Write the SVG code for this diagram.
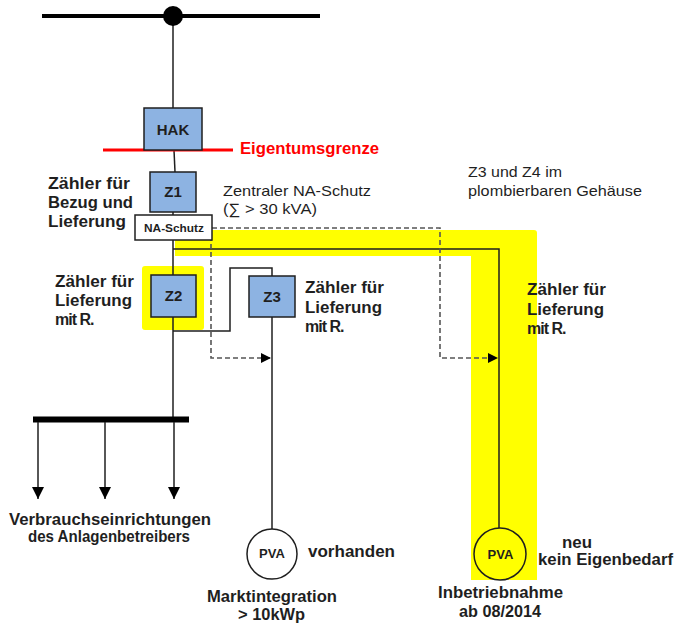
<svg xmlns="http://www.w3.org/2000/svg" width="676" height="626" viewBox="0 0 676 626">
<style>
text{font-family:"Liberation Sans",Arial,sans-serif;fill:#1f1f1f}
.b{font-weight:bold;font-size:15px}
.l{font-weight:bold;font-size:16px}
.r{font-size:15px}
.box{fill:#8db3e2;stroke:#1f1f1f;stroke-width:1.5}
.w{fill:none;stroke:#1f1f1f;stroke-width:1.5}
.d{fill:none;stroke:#555;stroke-width:1.6;stroke-dasharray:5 3}
.c{text-anchor:middle}
.m{letter-spacing:-1px}
</style>
<defs>
<marker id="ah" viewBox="0 0 10 10" refX="10" refY="5" markerWidth="10" markerHeight="10" markerUnits="userSpaceOnUse" orient="auto"><path d="M0,0L10,5L0,10Z" fill="#000"/></marker>
<marker id="ad" viewBox="0 0 12 12" refX="12" refY="6" markerWidth="12" markerHeight="12" markerUnits="userSpaceOnUse" orient="auto"><path d="M0,0L12,6L0,12Z" fill="#000"/></marker>
</defs>
<g id="highlight">
<path d="M175,230H534Q537,230 537,233V580H471V256H175Z" fill="#ffff00"/>
<rect x="142" y="266" width="62" height="64" rx="3" fill="#ffff00"/>
</g>
<g id="connectors">
<line x1="42" y1="16" x2="320" y2="16" stroke="#000" stroke-width="4"/>
<line x1="173" y1="16" x2="173" y2="108" class="w"/>
<line x1="174" y1="150" x2="175" y2="172" class="w"/>
<line x1="173" y1="212" x2="173" y2="215" class="w"/>
<line x1="173" y1="240" x2="173" y2="275" class="w"/>
<line x1="173" y1="317" x2="173" y2="417" class="w"/>
<path d="M173,331H230V268H272V276" class="w"/>
<line x1="272" y1="317" x2="272" y2="529" class="w"/>
<path d="M173,249H499V528" class="w"/>
<line x1="33" y1="419.5" x2="189" y2="419.5" stroke="#000" stroke-width="6"/>
<line x1="38" y1="422" x2="38" y2="499" class="w" marker-end="url(#ad)"/>
<line x1="105" y1="422" x2="105" y2="499" class="w" marker-end="url(#ad)"/>
<line x1="174" y1="422" x2="174" y2="499" class="w" marker-end="url(#ad)"/>
<path d="M212,228H440V358H498" class="d" marker-end="url(#ah)"/>
<path d="M211,236V358H271" class="d" marker-end="url(#ah)"/>
<line x1="103" y1="150" x2="233" y2="150" stroke="#ff0000" stroke-width="3"/>
</g>
<g id="netz"><circle cx="173" cy="16" r="10" fill="#000"/></g>
<g id="hak"><rect x="144" y="108" width="58" height="42" class="box"/><text x="173" y="135" class="b c">HAK</text></g>
<g id="eigentumsgrenze"><text x="240" y="154" class="l" style="fill:#ff0000" textLength="139" lengthAdjust="spacingAndGlyphs">Eigentumsgrenze</text></g>
<g id="z1"><rect x="150" y="172" width="46" height="40" class="box"/><text x="173" y="197" class="b c">Z1</text></g>
<g id="na-schutz"><rect x="135" y="215" width="77" height="25" fill="#fff" stroke="#1f1f1f" stroke-width="1.5"/><text x="174" y="231.5" class="c" style="font-weight:bold;font-size:10px" textLength="60" lengthAdjust="spacingAndGlyphs">NA-Schutz</text></g>
<g id="z2"><rect x="151" y="275" width="45" height="42" class="box"/><text x="173.5" y="301" class="b c">Z2</text></g>
<g id="z3"><rect x="249" y="276" width="46" height="41" class="box"/><text x="272" y="302" class="b c">Z3</text></g>
<g id="pva1"><circle cx="272" cy="554" r="25" fill="#fff" stroke="#1f1f1f" stroke-width="1.5"/><text x="272" y="558" class="c" style="font-weight:bold;font-size:13px">PVA</text></g>
<g id="pva2"><circle cx="500" cy="554" r="26" fill="#ffff00" stroke="#1f1f1f" stroke-width="1.5"/><text x="500.5" y="559" class="c" style="font-weight:bold;font-size:13px">PVA</text></g>
<g id="labels">
<text x="48" y="189" class="l" textLength="82" lengthAdjust="spacingAndGlyphs">Zähler für</text>
<text x="48" y="208" class="l" textLength="85" lengthAdjust="spacingAndGlyphs">Bezug und</text>
<text x="48" y="227" class="l" textLength="78" lengthAdjust="spacingAndGlyphs">Lieferung</text>
<text x="223" y="196" class="r" textLength="148" lengthAdjust="spacingAndGlyphs">Zentraler NA-Schutz</text>
<text x="223" y="214" class="r" textLength="94" lengthAdjust="spacingAndGlyphs">(∑ &gt; 30 kVA)</text>
<text x="468" y="177" class="r" textLength="94" lengthAdjust="spacingAndGlyphs">Z3 und Z4 im</text>
<text x="468" y="196" class="r" textLength="174" lengthAdjust="spacingAndGlyphs">plombierbaren Gehäuse</text>
<text x="55" y="287" class="l" textLength="79" lengthAdjust="spacingAndGlyphs">Zähler für</text>
<text x="55" y="306" class="l" textLength="77" lengthAdjust="spacingAndGlyphs">Lieferung</text>
<text x="55" y="325" class="l m">mit R.</text>
<text x="305" y="293" class="l" textLength="79" lengthAdjust="spacingAndGlyphs">Zähler für</text>
<text x="305" y="313" class="l" textLength="77" lengthAdjust="spacingAndGlyphs">Lieferung</text>
<text x="305" y="332" class="l m">mit R.</text>
<text x="527" y="295" class="l" textLength="79" lengthAdjust="spacingAndGlyphs">Zähler für</text>
<text x="527" y="315" class="l" textLength="77" lengthAdjust="spacingAndGlyphs">Lieferung</text>
<text x="527" y="334" class="l m">mit R.</text>
<text x="110" y="525" class="l c" textLength="202" lengthAdjust="spacingAndGlyphs">Verbrauchseinrichtungen</text>
<text x="109" y="542" class="l c" textLength="162" lengthAdjust="spacingAndGlyphs">des Anlagenbetreibers</text>
<text x="308" y="557" class="l" textLength="87" lengthAdjust="spacingAndGlyphs">vorhanden</text>
<text x="272" y="602" class="l c" textLength="130" lengthAdjust="spacingAndGlyphs">Marktintegration</text>
<text x="271.5" y="620" class="l c" textLength="67" lengthAdjust="spacingAndGlyphs">&gt; 10kWp</text>
<text x="577" y="548" class="l c" textLength="30" lengthAdjust="spacingAndGlyphs">neu</text>
<text x="538" y="565" class="l" textLength="135" lengthAdjust="spacingAndGlyphs">kein Eigenbedarf</text>
<text x="500.5" y="598" class="l c" textLength="125" lengthAdjust="spacingAndGlyphs">Inbetriebnahme</text>
<text x="500" y="617" class="l c" textLength="82" lengthAdjust="spacingAndGlyphs">ab 08/2014</text>
</g>
</svg>
